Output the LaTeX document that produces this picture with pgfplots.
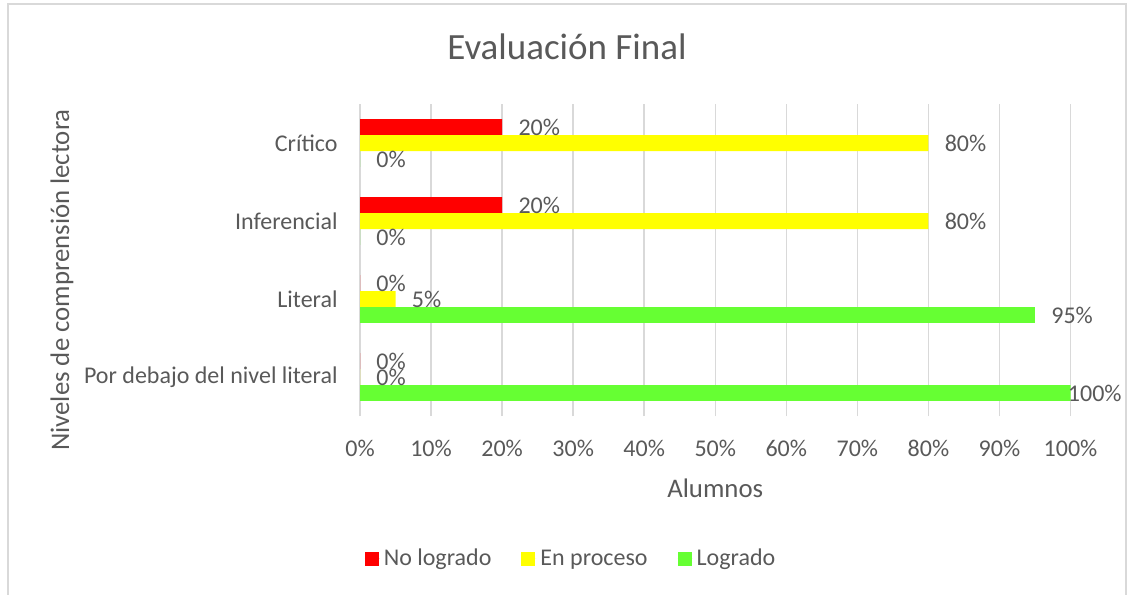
\documentclass[border=0pt]{standalone}
\usepackage{fontspec}
\setmainfont{Carlito}
\usepackage{pgfplots}
\pgfplotsset{compat=1.18}
\usepackage{pgfplotstable}

\definecolor{txt}{HTML}{595959}
\definecolor{gridc}{HTML}{D9D9D9}
\definecolor{nolog}{HTML}{FF0000}
\definecolor{enproc}{HTML}{FFFF00}
\definecolor{logr}{HTML}{66FF33}

% y: 0 = Por debajo del nivel literal, 1 = Literal, 2 = Inferencial, 3 = Critico
% dx = horizontal offset of the data label (pt)
\pgfplotstableread{
y val dx
0 0 8
1 0 8
2 20 8
3 20 8
}\tabNoLogrado
\pgfplotstableread{
y val dx
0 0 8
1 5 8
2 80 8
3 80 8
}\tabEnProceso
\pgfplotstableread{
y val dx
0 100 -1.5
1 95 8
2 0 8
3 0 8
}\tabLogrado

\begin{document}
\begin{tikzpicture}
\useasboundingbox (0,0) rectangle (563.5pt,-297pt);
% chart border
\draw[gridc, line width=0.75pt] (4pt,-300pt) -- (4pt,-2pt) -- (563pt,-2pt) -- (563pt,-300pt);
% title
\node[anchor=base, text=txt, font=\fontsize{18.5}{22}\selectfont] at (283.5pt,-29.5pt) {Evaluación Final};

\begin{axis}[
    at={(180pt,-208pt)}, anchor=south west,
    scale only axis,
    width=355.25pt, height=156pt,
    xmin=0, xmax=100,
    ymin=-0.5, ymax=3.5,
    xtick={0,10,...,100},
    ytick={0,1,2,3},
    yticklabels={Por debajo del nivel literal, Literal, Inferencial, Crítico},
    /pgf/number format/assume math mode=true,
    xticklabel={\pgfmathprintnumber{\tick}\%},
    major tick length=0pt,
    axis line style={draw=none},
    xmajorgrids=true, ymajorgrids=false,
    grid style={gridc, line width=0.75pt},
    tick label style={text=txt, font=\fontsize{12}{14}\selectfont},
    xticklabel style={anchor=north, inner sep=0pt, yshift=-12pt},
    yticklabel style={anchor=east, inner sep=0pt, xshift=-11pt},
    xlabel={Alumnos},
    ylabel={Niveles de comprensión lectora},
    label style={text=txt, font=\fontsize{13.4}{16}\selectfont},
    xlabel style={at={(axis description cs:0.5,0)}, anchor=center, yshift=-36pt},
    ylabel style={at={(axis description cs:-0.4194,0.436)}, anchor=center},
    xbar, bar width=0.205,
    point meta=x,
    visualization depends on={\thisrow{dx} \as \dx},
    nodes near coords={\pgfmathprintnumber{\pgfplotspointmeta}\%},
    every node near coord/.append style={anchor=west, inner sep=0pt, text=txt,
        font=\fontsize{12}{14}\selectfont, xshift=\dx pt},
    legend columns=3,
    legend style={at={(0.2984,-0.458)}, anchor=center, draw=none, fill=none,
        font=\fontsize{12}{14}\selectfont, text=txt,
        /tikz/every even column/.append style={column sep=13pt}},
    legend cell align=left,
    legend image code/.code={\fill[#1] (0pt,-3.5pt) rectangle (7pt,3.5pt);
        \path (0pt,0pt) -- (7.5pt,0pt);},
]
\addplot[fill=nolog, draw=none, bar shift=0.205] table[x=val, y=y] {\tabNoLogrado};
\addlegendentry{No logrado}
\addplot[fill=enproc, draw=none, bar shift=0] table[x=val, y=y] {\tabEnProceso};
\addlegendentry{En proceso}
\addplot[fill=logr, draw=none, bar shift=-0.205] table[x=val, y=y] {\tabLogrado};
\addlegendentry{Logrado}
\end{axis}
\end{tikzpicture}
\end{document}
